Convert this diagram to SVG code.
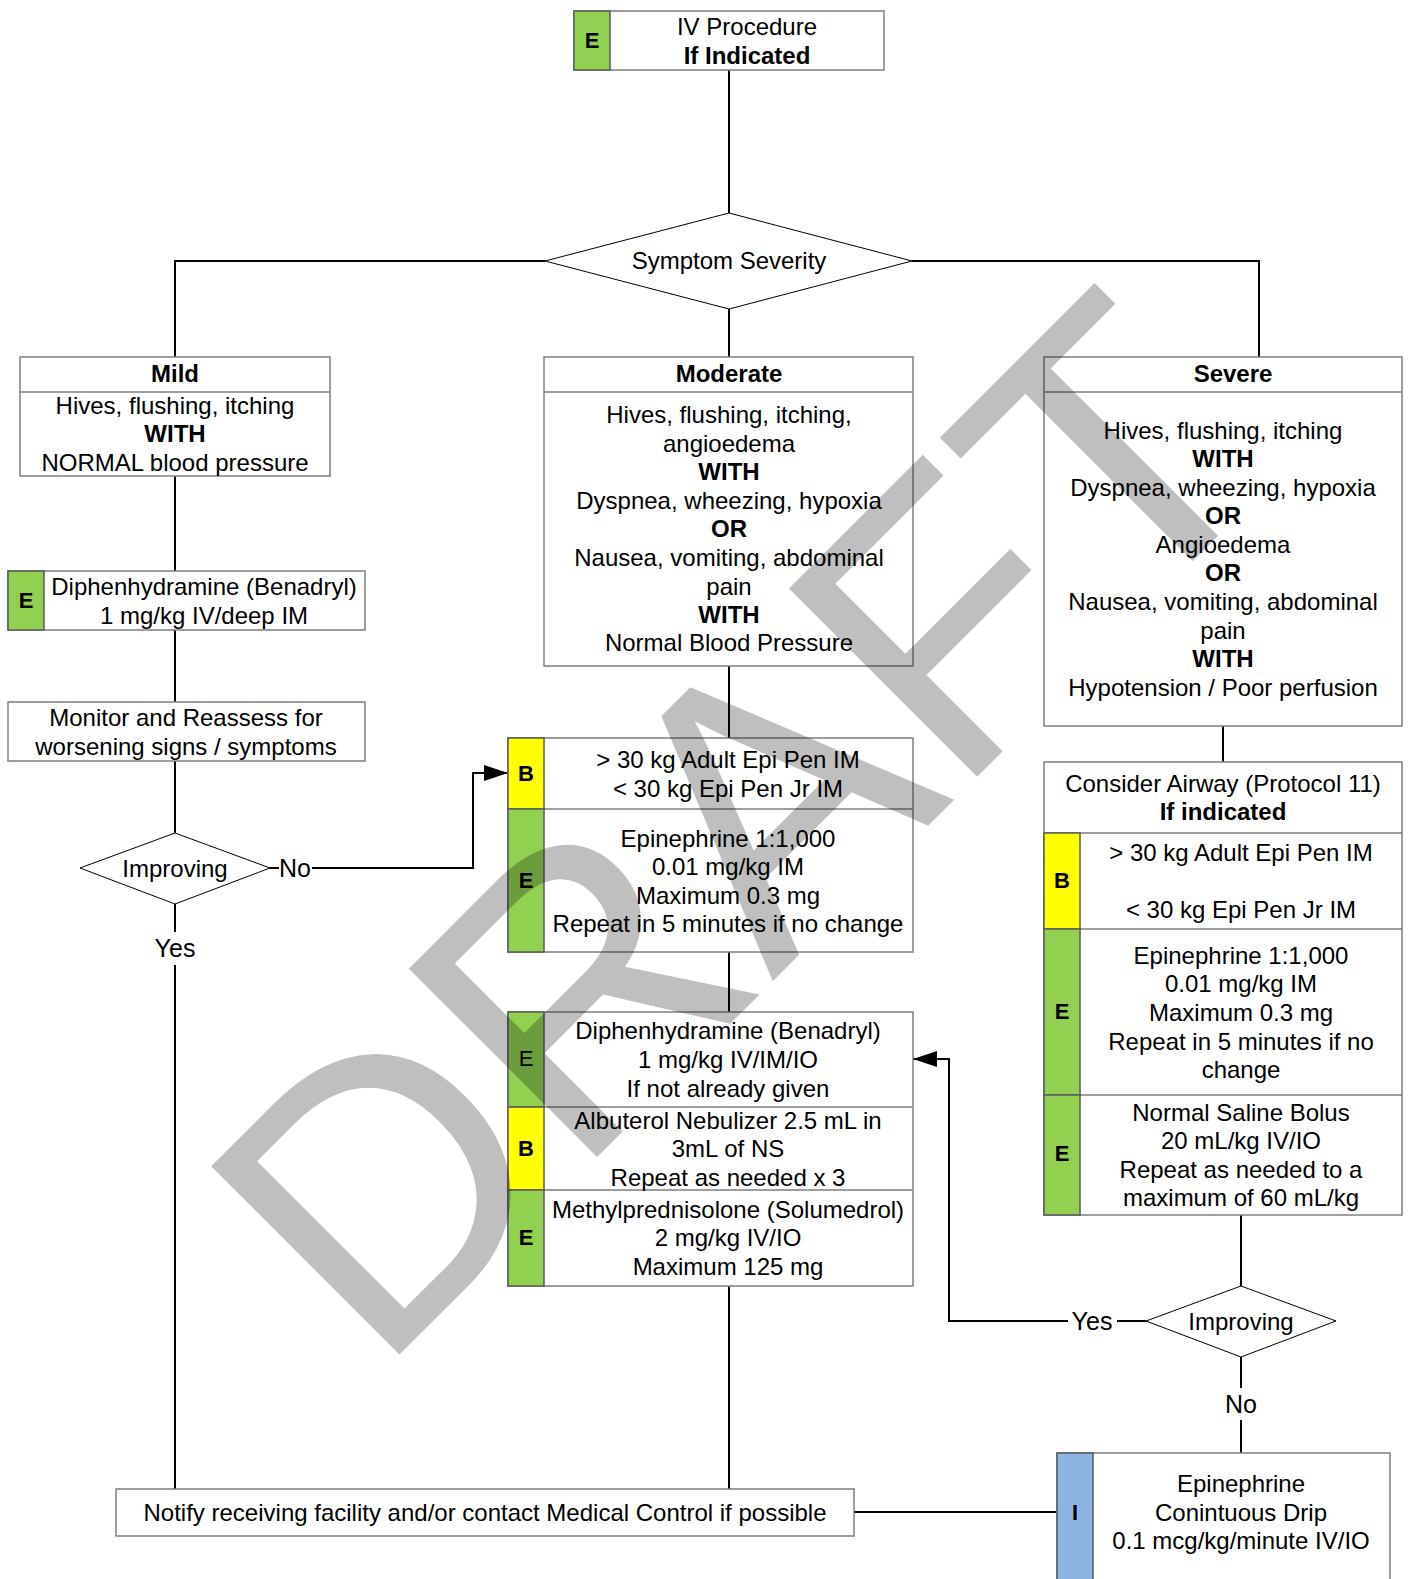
<svg xmlns="http://www.w3.org/2000/svg" width="1413" height="1579" viewBox="0 0 1413 1579">
<style>
.box{fill:#fff;stroke:#7f7f7f;stroke-width:1.5}
.gr{fill:#92D050;stroke:#5a5a5a;stroke-width:1.5}
.ye{fill:#FFFF00;stroke:#5a5a5a;stroke-width:1.5}
.bl{fill:#8DB4E2;stroke:#5a5a5a;stroke-width:1.5}
.ln{fill:none;stroke:#7f7f7f;stroke-width:1.5}
.t{font-family:"Liberation Sans",Arial,sans-serif;font-size:24px;text-anchor:middle;dominant-baseline:central;fill:#000}
.k{font-family:"Liberation Sans",Arial,sans-serif;font-size:22px;font-weight:bold;text-anchor:middle;dominant-baseline:central;fill:#000}
.lb{font-family:"Liberation Sans",Arial,sans-serif;font-size:25px;text-anchor:middle;dominant-baseline:central;fill:#000}
.b{font-weight:bold}
.c{fill:none;stroke:#000;stroke-width:2}
.d{fill:#fff;stroke:#000;stroke-width:1}
.wm{font-family:"Liberation Sans",Arial,sans-serif;font-size:387px;fill:#000;fill-opacity:0.25}
</style>
<defs>
<marker id="arrb" viewBox="0 0 24 16" refX="24" refY="8" markerWidth="24" markerHeight="16" markerUnits="userSpaceOnUse" orient="auto">
<path d="M0,0 L24,8 L0,16 Z" fill="#000"/>
</marker>
</defs>
<rect width="1413" height="1579" fill="#fff"/>

<g id="connectors">
<path class="c" d="M729,70 V213"/>
<path class="c" d="M545,261 H175 V357"/>
<path class="c" d="M912,261 H1259 V357"/>
<path class="c" d="M729,309 V357"/>
<path class="c" d="M175,476 V571"/>
<path class="c" d="M175,630 V702"/>
<path class="c" d="M175,761 V833"/>
<path class="c" d="M270,868 H279"/>
<path class="c" d="M312,868 H473 V773 H508" marker-end="url(#arrb)"/>
<text class="lb" x="295" y="868">No</text>
<path class="c" d="M175,904 V932"/>
<text class="lb" x="175" y="948">Yes</text>
<path class="c" d="M175,965 V1489"/>
<path class="c" d="M729,666 V738"/>
<path class="c" d="M729,952 V1012"/>
<path class="c" d="M729,1286 V1489"/>
<path class="c" d="M854,1512 H1057"/>
<path class="c" d="M1223,726 V762"/>
<path class="c" d="M1241,1215 V1286"/>
<path class="c" d="M1146,1321 H1117"/>
<text class="lb" x="1092" y="1321">Yes</text>
<path class="c" d="M1068,1321 H949 V1059 H913" marker-end="url(#arrb)"/>
<path class="c" d="M1241,1357 V1388"/>
<text class="lb" x="1241" y="1404">No</text>
<path class="c" d="M1241,1420 V1453"/>
</g>

<g id="iv-procedure">
<rect class="box" x="574" y="11" width="310" height="59"/>
<rect class="gr" x="574" y="11" width="36" height="59"/>
<text class="k" x="592" y="40">E</text>
<text class="t" x="747" y="26">IV Procedure</text>
<text class="t b" x="747" y="55">If Indicated</text>
</g>

<g id="symptom-severity">
<polygon class="d" points="545,261 729,213 912,261 729,309"/>
<text class="t" x="729" y="260">Symptom Severity</text>
</g>

<g id="mild">
<rect class="box" x="20" y="357" width="310" height="119"/>
<path class="ln" d="M20,392 H330"/>
<text class="t b" x="175" y="373">Mild</text>
<text class="t" x="175" y="405">Hives, flushing, itching</text>
<text class="t b" x="175" y="433">WITH</text>
<text class="t" x="175" y="462">NORMAL blood pressure</text>
</g>

<g id="moderate">
<rect class="box" x="544" y="357" width="369" height="309"/>
<path class="ln" d="M544,392 H913"/>
<text class="t b" x="729" y="373">Moderate</text>
<text class="t" x="729" y="414">Hives, flushing, itching,</text>
<text class="t" x="729" y="443">angioedema</text>
<text class="t b" x="729" y="471">WITH</text>
<text class="t" x="729" y="500">Dyspnea, wheezing, hypoxia</text>
<text class="t b" x="729" y="528">OR</text>
<text class="t" x="729" y="557">Nausea, vomiting, abdominal</text>
<text class="t" x="729" y="586">pain</text>
<text class="t b" x="729" y="614">WITH</text>
<text class="t" x="729" y="642">Normal Blood Pressure</text>
</g>

<g id="severe">
<rect class="box" x="1044" y="357" width="358" height="369"/>
<path class="ln" d="M1044,392 H1402"/>
<text class="t b" x="1233" y="373">Severe</text>
<text class="t" x="1223" y="430">Hives, flushing, itching</text>
<text class="t b" x="1223" y="458">WITH</text>
<text class="t" x="1223" y="487">Dyspnea, wheezing, hypoxia</text>
<text class="t b" x="1223" y="515">OR</text>
<text class="t" x="1223" y="544">Angioedema</text>
<text class="t b" x="1223" y="572">OR</text>
<text class="t" x="1223" y="601">Nausea, vomiting, abdominal</text>
<text class="t" x="1223" y="630">pain</text>
<text class="t b" x="1223" y="658">WITH</text>
<text class="t" x="1223" y="687">Hypotension / Poor perfusion</text>
</g>

<g id="diphenhydramine-mild">
<rect class="box" x="8" y="571" width="357" height="59"/>
<rect class="gr" x="8" y="571" width="36" height="59"/>
<text class="k" x="26" y="600">E</text>
<text class="t" x="204" y="586">Diphenhydramine (Benadryl)</text>
<text class="t" x="204" y="615">1 mg/kg IV/deep IM</text>
</g>

<g id="monitor">
<rect class="box" x="8" y="702" width="357" height="59"/>
<text class="t" x="186" y="717">Monitor and Reassess for</text>
<text class="t" x="186" y="746">worsening signs / symptoms</text>
</g>

<g id="improving-left">
<polygon class="d" points="80,868 175,833 270,868 175,904"/>
<text class="t" x="175" y="868">Improving</text>
</g>

<g id="epi-moderate">
<rect class="box" x="508" y="738" width="405" height="214"/>
<path class="ln" d="M508,809 H913"/>
<rect class="ye" x="508" y="738" width="36" height="71"/>
<rect class="gr" x="508" y="809" width="36" height="143"/>
<text class="k" x="526" y="773">B</text>
<text class="k" x="526" y="880">E</text>
<text class="t" x="728" y="759">&gt; 30 kg Adult Epi Pen IM</text>
<text class="t" x="728" y="788">&lt; 30 kg Epi Pen Jr IM</text>
<text class="t" x="728" y="838">Epinephrine 1:1,000</text>
<text class="t" x="728" y="866">0.01 mg/kg IM</text>
<text class="t" x="728" y="895">Maximum 0.3 mg</text>
<text class="t" x="728" y="923">Repeat in 5 minutes if no change</text>
</g>

<g id="meds-moderate">
<rect class="box" x="508" y="1012" width="405" height="274"/>
<path class="ln" d="M508,1107 H913 M508,1190 H913"/>
<rect class="gr" x="508" y="1012" width="36" height="95"/>
<rect class="ye" x="508" y="1107" width="36" height="83"/>
<rect class="gr" x="508" y="1190" width="36" height="96"/>
<text class="t" x="526" y="1058" style="font-size:22px">E</text>
<text class="k" x="526" y="1148">B</text>
<text class="k" x="526" y="1237">E</text>
<text class="t" x="728" y="1030">Diphenhydramine (Benadryl)</text>
<text class="t" x="728" y="1059">1 mg/kg IV/IM/IO</text>
<text class="t" x="728" y="1088">If not already given</text>
<text class="t" x="728" y="1120">Albuterol Nebulizer 2.5 mL in</text>
<text class="t" x="728" y="1148">3mL of NS</text>
<text class="t" x="728" y="1177">Repeat as needed x 3</text>
<text class="t" x="728" y="1209">Methylprednisolone (Solumedrol)</text>
<text class="t" x="728" y="1237">2 mg/kg IV/IO</text>
<text class="t" x="728" y="1266">Maximum 125 mg</text>
</g>

<g id="severe-treatment">
<rect class="box" x="1044" y="762" width="358" height="453"/>
<path class="ln" d="M1044,833 H1402 M1080,929 H1402 M1080,1095 H1402"/>
<rect class="ye" x="1044" y="833" width="36" height="96"/>
<rect class="gr" x="1044" y="929" width="36" height="166"/>
<rect class="gr" x="1044" y="1095" width="36" height="120"/>
<text class="k" x="1062" y="880">B</text>
<text class="k" x="1062" y="1011">E</text>
<text class="k" x="1062" y="1153">E</text>
<text class="t" x="1223" y="783">Consider Airway (Protocol 11)</text>
<text class="t b" x="1223" y="811">If indicated</text>
<text class="t" x="1241" y="852">&gt; 30 kg Adult Epi Pen IM</text>
<text class="t" x="1241" y="909">&lt; 30 kg Epi Pen Jr IM</text>
<text class="t" x="1241" y="955">Epinephrine 1:1,000</text>
<text class="t" x="1241" y="983">0.01 mg/kg IM</text>
<text class="t" x="1241" y="1012">Maximum 0.3 mg</text>
<text class="t" x="1241" y="1041">Repeat in 5 minutes if no</text>
<text class="t" x="1241" y="1069">change</text>
<text class="t" x="1241" y="1112">Normal Saline Bolus</text>
<text class="t" x="1241" y="1140">20 mL/kg IV/IO</text>
<text class="t" x="1241" y="1169">Repeat as needed to a</text>
<text class="t" x="1241" y="1197">maximum of 60 mL/kg</text>
</g>

<g id="improving-right">
<polygon class="d" points="1146,1321 1241,1286 1336,1321 1241,1357"/>
<text class="t" x="1241" y="1321">Improving</text>
</g>

<g id="epi-drip">
<rect class="box" x="1057" y="1453" width="333" height="140"/>
<rect class="bl" x="1057" y="1453" width="36" height="140"/>
<text class="k" x="1075" y="1512">I</text>
<text class="t" x="1241" y="1483">Epinephrine</text>
<text class="t" x="1241" y="1512">Conintuous Drip</text>
<text class="t" x="1241" y="1540">0.1 mcg/kg/minute IV/IO</text>
</g>

<g id="notify">
<rect class="box" x="116" y="1489" width="738" height="47"/>
<text class="t" x="485" y="1512">Notify receiving facility and/or contact Medical Control if possible</text>
</g>

<text class="wm" x="377" y="1377" transform="rotate(-45 377 1377)">DRAFT</text>
</svg>
